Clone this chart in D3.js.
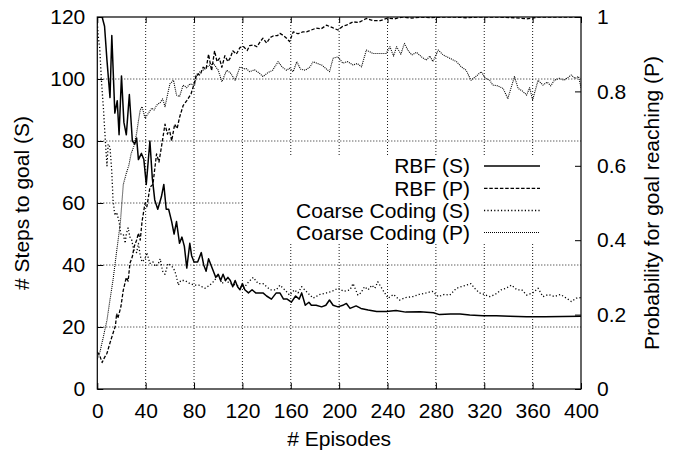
<!DOCTYPE html>
<html><head><meta charset="utf-8">
<script src="https://cdn.jsdelivr.net/npm/d3@7"></script>
<style>body{margin:0;background:#fff}svg{display:block}text{font-family:"Liberation Sans",Arial,sans-serif;fill:#000}</style>
</head><body><svg id="c" width="680" height="457"></svg>
<script>
const xTicks = [0,40,80,120,160,200,240,280,320,360,400];
const yTicks = [0,20,40,60,80,100,120];
const y2Ticks = [0,0.2,0.4,0.6,0.8,1];
const y2TickLabels = ["0","0.2","0.4","0.6","0.8","1"];
const seriesNames = ["RBF (S)","RBF (P)","Coarse Coding (S)","Coarse Coding (P)"];

const rbfS = [[0,128],[2,124],[4,120],[6,117],[8,106],[10.5,94],[12,114],[14.5,89],[16.5,93],[18,82],[20,101],[22,86],[24,82],[26.5,95],[29,80],[31,79],[32.5,81],[34,74],[36.5,76],[38.5,74],[40.5,66],[43.5,80],[45.5,68],[47.5,61],[50,58],[53,62],[55,66],[57,58],[59,58],[61.5,54],[63.5,50],[65.5,54],[68,47],[70,49],[72,46],[74,39],[76.5,47],[78,43],[80,41],[83,41],[86,44],[88,40],[90,38],[92,42],[94,40],[96,38],[98,36],[100,37],[102,35],[104,37],[106,35],[108,36],[110,35],[112,33],[114,35],[116,33],[118,32],[120,34],[122,32],[125,31],[128,32],[131,31],[134,31],[137,31],[140,30],[144,29],[148,31],[151,31],[154,29],[157,29],[160.5,28],[164,30],[167,29],[169,31],[172,27],[175,28],[177,27],[181,27],[185.5,26.5],[189,27],[192,28.7],[195,27],[199,26.5],[203,27],[206,27.6],[209,26],[214,26.8],[218,26],[224,25.5],[231,25],[239,25],[247,25.3],[255,24.8],[267,24.9],[278,24.6],[283,24],[292,24.2],[300,24.2],[308,23.9],[319,23.6],[330,23.6],[341,23.5],[355,23.3],[370,23.3],[385,23.4],[400,23.5]];

const rbfP = [[0,0.10],[2,0.09],[4,0.071],[6,0.085],[8,0.096],[10.5,0.124],[13,0.15],[15,0.17],[16,0.203],[17,0.19],[19.5,0.221],[21.5,0.266],[24,0.30],[25.5,0.29],[27,0.338],[29,0.356],[30.5,0.383],[32.5,0.40],[34,0.419],[35.5,0.40],[37,0.45],[39.5,0.50],[41,0.49],[43.5,0.542],[46,0.55],[49,0.632],[51,0.61],[53,0.65],[56,0.712],[58,0.685],[59.5,0.70],[61.5,0.667],[64,0.712],[66,0.70],[68,0.73],[71,0.762],[74,0.775],[77.5,0.793],[80,0.82],[82,0.847],[85,0.844],[87.5,0.865],[90,0.86],[92,0.90],[94.5,0.856],[97,0.909],[99,0.88],[101,0.889],[103,0.865],[105.5,0.896],[108,0.88],[110,0.89],[112,0.909],[115,0.90],[118,0.918],[121,0.92],[124,0.91],[126,0.923],[129,0.925],[132,0.92],[135,0.935],[137,0.943],[140,0.93],[143,0.945],[146,0.95],[149,0.95],[151,0.956],[154,0.95],[156.5,0.943],[159,0.934],[162,0.96],[166,0.955],[170,0.96],[173,0.96],[177,0.965],[181,0.97],[185,0.968],[189.5,0.978],[194,0.972],[199,0.965],[203,0.975],[206,0.978],[211.5,0.987],[216,0.985],[222.5,0.996],[228,0.99],[234,0.99],[240,0.997],[246,0.995],[252,1.0],[260,0.997],[268,1.0],[276,0.998],[284,1.0],[295,1.0],[305,0.998],[315,1.0],[330,1.0],[345,0.998],[355,0.995],[365,1.0],[380,1.0],[400,1.0]];

const ccS = [[0,118],[1,113],[2,110],[3.5,99],[5,91],[6.5,81],[8,72],[9,79],[10.5,78],[12,70],[13,61],[14.5,56],[16,57],[18,54],[19.5,50],[21.5,50],[23,47],[24,50],[25.5,52],[27,49],[28.5,48],[30,45],[32.5,44],[34,47],[35.5,43],[37,41],[39.5,42],[41,44],[43.5,40.5],[46,41],[48,39.5],[50.5,40.5],[52,42],[54,38],[56,37],[58.5,40.5],[60.5,40],[63,39],[65,37],[67,33.5],[69,35],[72.5,35],[76.5,34],[80.5,33.5],[84,33.5],[89,32.5],[93,33.5],[97,35],[100,37],[103,34],[106,35],[110,34],[115,33.5],[121,32.5],[125,34.5],[129,36],[133,34],[137,34],[143,32],[148,32],[151,33.5],[155,32],[159,30.3],[163,32],[166,31],[169,33],[174,31],[178.5,29.3],[184,30.5],[189.5,31],[194,31.5],[199,32.5],[204,31.5],[209,32],[211.5,34],[215.5,30.3],[218,31],[221,33],[224,32],[227,33.5],[229.5,32.5],[232,34.6],[236,32],[240.5,29.3],[245,30.5],[250,28.7],[255,29.5],[261,29.8],[266,30.5],[272,31],[277,31.5],[282,29.8],[287,30.5],[291.5,30.3],[297,32.5],[301,33],[305,33.5],[309,34],[312,32.5],[316,31],[320,30.5],[324.5,29.8],[329,30.5],[334,32],[338,32.5],[342.5,33.5],[347,32],[351,32],[355,30.3],[360,31],[364.5,32.5],[368.5,29.8],[373,30.5],[378,29.8],[383,30.5],[388,29.3],[392,28.2],[396,29.3],[400,29.5]];

const ccP = [[0,0.08],[2,0.097],[5,0.14],[8,0.185],[10.5,0.24],[13,0.293],[16,0.37],[19,0.445],[21.5,0.55],[24,0.58],[26,0.60],[28,0.633],[30,0.65],[32.5,0.687],[34,0.72],[35.5,0.75],[37,0.759],[39.5,0.728],[42,0.74],[45,0.755],[47,0.75],[49,0.763],[52,0.77],[54,0.78],[56,0.759],[58,0.79],[60,0.82],[63,0.83],[65.5,0.79],[68,0.786],[71,0.817],[74,0.81],[76.5,0.82],[80.5,0.817],[82,0.84],[85,0.853],[89,0.86],[93,0.871],[96,0.875],[100,0.857],[103,0.826],[107,0.857],[110,0.85],[114,0.83],[118,0.866],[121,0.86],[123,0.862],[126,0.853],[130,0.858],[134,0.849],[137,0.84],[141,0.85],[145,0.857],[149.5,0.88],[153,0.865],[156.5,0.857],[159,0.862],[162,0.853],[165,0.88],[168,0.86],[172,0.857],[176,0.866],[178.5,0.88],[182,0.875],[186,0.87],[192,0.853],[195,0.889],[199,0.893],[203,0.876],[207,0.88],[211.5,0.871],[215,0.875],[218.5,0.866],[222.5,0.911],[228,0.902],[233.5,0.902],[239,0.902],[242,0.92],[245,0.895],[247.5,0.92],[251,0.9],[254,0.929],[257,0.91],[260,0.898],[264,0.905],[268,0.893],[272,0.884],[275,0.895],[277.5,0.88],[282,0.911],[286,0.898],[291.5,0.889],[297,0.88],[301,0.866],[305,0.857],[309,0.83],[313,0.84],[317.5,0.853],[321,0.835],[324.5,0.83],[327,0.817],[331,0.815],[335.5,0.808],[339.5,0.781],[342.5,0.813],[345,0.84],[348,0.808],[352,0.80],[355,0.79],[357.5,0.81],[360,0.777],[364.5,0.83],[368.5,0.817],[372,0.825],[375,0.815],[378,0.83],[382,0.835],[386,0.83],[392,0.844],[395,0.835],[398,0.84],[400,0.81]];

const L = 97.3, R = 581, T = 17, B = 389;
const FS = 21;
const svg = d3.select("#c");
const x = d3.scaleLinear().domain([0,400]).range([L,R]);
const y = d3.scaleLinear().domain([0,120]).range([B,T]);
const y2 = d3.scaleLinear().domain([0,1]).range([B,T]);

const key = {x0:244, x1:R, y0:155, y1:243};

// grid
const grid = svg.append("g").attr("stroke","#000").attr("stroke-width",0.9).attr("stroke-dasharray","1,2").attr("fill","none");
xTicks.slice(1,-1).forEach(t=>{
  grid.append("line").attr("x1",x(t)).attr("x2",x(t)).attr("y1",B).attr("y2",T);
});
yTicks.slice(1,-1).forEach(t=>{
  grid.append("line").attr("x1",L).attr("x2",R).attr("y1",y(t)).attr("y2",y(t));
});
// key background hides grid
svg.append("rect").attr("x",key.x0).attr("y",key.y0).attr("width",key.x1-key.x0).attr("height",key.y1-key.y0).attr("fill","#fff");

// axes
const ax = d3.axisBottom(x).tickValues(xTicks).tickSizeInner(-6).tickSizeOuter(0).tickPadding(14);
svg.append("g").attr("transform",`translate(0,${B})`).call(ax);
const axTop = d3.axisTop(x).tickValues(xTicks).tickSizeInner(-6).tickSizeOuter(0).tickFormat("");
svg.append("g").attr("transform",`translate(0,${T})`).call(axTop);
const ay = d3.axisLeft(y).tickValues(yTicks).tickSizeInner(-6).tickSizeOuter(0).tickPadding(12);
svg.append("g").attr("transform",`translate(${L},0)`).call(ay);
const ay2 = d3.axisRight(y2).tickValues(y2Ticks).tickSizeInner(-6).tickSizeOuter(0).tickPadding(16).tickFormat((d,i)=>y2TickLabels[i]);
svg.append("g").attr("transform",`translate(${R},0)`).call(ay2);
svg.selectAll(".domain").remove();
svg.selectAll(".tick line").attr("stroke","#000");
svg.selectAll(".tick text").attr("font-size",FS).attr("font-family","Liberation Sans, Arial, sans-serif");

// frame
svg.append("rect").attr("x",L).attr("y",T).attr("width",R-L).attr("height",B-T).attr("fill","none").attr("stroke","#000").attr("stroke-width",1.2);

// clip
svg.append("defs").append("clipPath").attr("id","clip").append("rect").attr("x",L).attr("y",T).attr("width",R-L).attr("height",B-T);

const styles = [
  {data:rbfS, ys:y, dash:null, w:1.5},
  {data:rbfP, ys:y2, dash:"3.5,1.8", w:1.3},
  {data:ccS, ys:y, dash:"1.2,2.2", w:1.3},
  {data:ccP, ys:y2, dash:"1,1", w:1.1}
];
const lines = svg.append("g").attr("clip-path","url(#clip)");
styles.forEach(s=>{
  const ln = d3.line().x(d=>x(d[0])).y(d=>s.ys(d[1]));
  lines.append("path").attr("d",ln(s.data)).attr("fill","none").attr("stroke","#000")
    .attr("stroke-width",s.w).attr("stroke-dasharray",s.dash).attr("stroke-linejoin","round");
});

// legend
const ly = [166,188.3,210.5,232.5];
seriesNames.forEach((n,i)=>{
  svg.append("text").attr("x",470).attr("y",ly[i]).attr("dy","0.35em").attr("text-anchor","end").attr("font-size",FS).text(n);
  svg.append("line").attr("x1",484).attr("x2",540).attr("y1",ly[i]).attr("y2",ly[i]).attr("stroke","#000")
    .attr("stroke-width",styles[i].w).attr("stroke-dasharray",styles[i].dash);
});

// axis titles
svg.append("text").attr("x",(L+R)/2).attr("y",446).attr("text-anchor","middle").attr("font-size",FS).text("# Episodes");
svg.append("text").attr("transform",`translate(29,${(T+B)/2}) rotate(-90)`).attr("text-anchor","middle").attr("font-size",FS).text("# Steps to goal (S)");
svg.append("text").attr("transform",`translate(659,${(T+B)/2}) rotate(-90)`).attr("text-anchor","middle").attr("font-size",FS).text("Probability for goal reaching (P)");
</script></body></html>
